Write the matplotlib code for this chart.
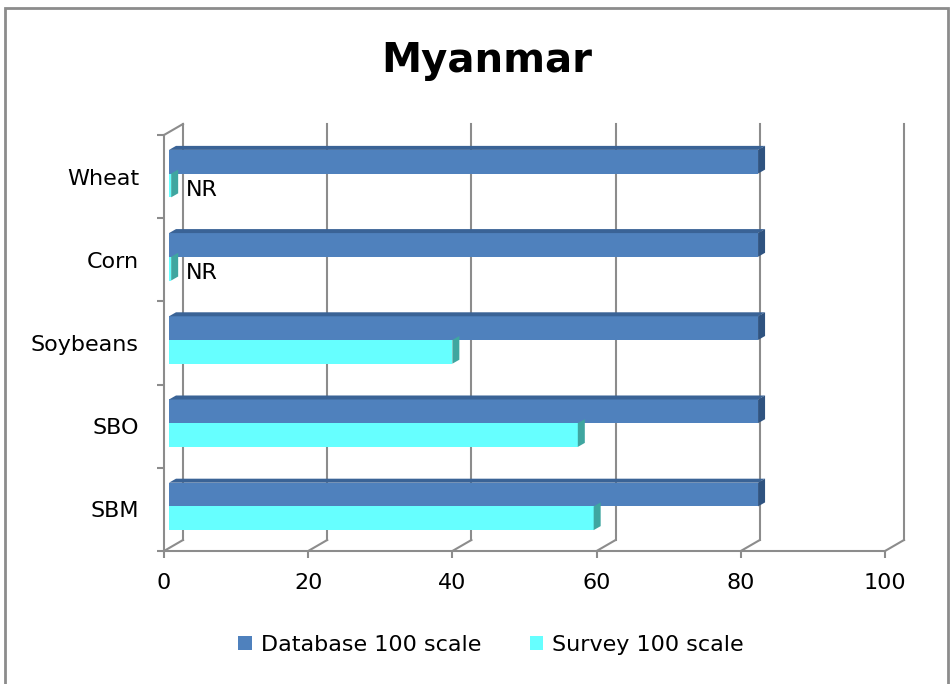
import matplotlib
matplotlib.use("Agg")
import matplotlib.pyplot as plt
from matplotlib.patches import Polygon, Rectangle

# data (bottom to top)
categories = ["SBM", "SBO", "Soybeans", "Corn", "Wheat"]
database_100 = [81.7, 81.7, 81.7, 81.7, 81.7]
survey_100 = [58.9, 56.7, 39.3, 0.3, 0.3]
survey_labels = ["", "", "", "NR", "NR"]
x_ticks = [0, 20, 40, 60, 80, 100]

W, H = 952, 684
fig = plt.figure(figsize=(W / 100, H / 100), dpi=100)

# plot area: front plane x 164..885, y 135..551 (pixels, top origin)
ax = fig.add_axes([164 / W, (H - 551) / H, (885 - 164) / W, (551 - 135) / H])
ax.set_xlim(0, 100)
ax.set_ylim(-0.5, len(categories) - 0.5)

px_x = 7.21    # pixels per value unit
px_y = 83.2    # pixels per category
DX, DY = 19 / px_x, 11 / px_y          # wall depth
BX, BY = 5 / px_x, 3 / px_y            # bar plane offset
bdx, bdy = 7 / px_x, 4 / px_y          # bar depth
bar_h = 0.285

grid_c = "#8c8c8c"
ytop = len(categories) - 0.5

# back wall gridlines + floor diagonals
for xv in x_ticks:
    ax.plot([xv, xv + DX], [-0.5, -0.5 + DY], color=grid_c, lw=1.5, clip_on=False, zorder=1)
    ax.plot([xv + DX, xv + DX], [-0.5 + DY, ytop + DY], color=grid_c, lw=1.5, clip_on=False, zorder=1)
ax.plot([0, DX], [ytop, ytop + DY], color=grid_c, lw=1.5, clip_on=False, zorder=1)


def bar3d(y0, val, front, top, side, draw_top):
    x0 = BX
    yb = y0 + BY
    ax.add_patch(Rectangle((x0, yb), val, bar_h, facecolor=front, edgecolor="none", zorder=3))
    if draw_top:
        ax.add_patch(Polygon([(x0, yb + bar_h), (x0 + val, yb + bar_h),
                              (x0 + val + bdx, yb + bar_h + bdy), (x0 + bdx, yb + bar_h + bdy)],
                             closed=True, facecolor=top, edgecolor="none", zorder=3))
    ax.add_patch(Polygon([(x0 + val, yb), (x0 + val, yb + bar_h),
                          (x0 + val + bdx, yb + bar_h + bdy), (x0 + val + bdx, yb + bdy)],
                         closed=True, facecolor=side, edgecolor="none", zorder=3))


for i, cat in enumerate(categories):
    # database bar on top, survey bar below
    bar3d(i, database_100[i], "#4f81bd", "#3a6396", "#2f5380", True)
    bar3d(i - bar_h, survey_100[i], "#66ffff", "#4fc8c8", "#3fa6a0", False)
    if survey_labels[i]:
        ax.text(BX + survey_100[i] + 2.0, i - bar_h / 2 - 0.02, survey_labels[i],
                ha="left", va="center", fontsize=16, color="black", zorder=4)

# axes styling
for s in ["top", "right"]:
    ax.spines[s].set_visible(False)
for s in ["left", "bottom"]:
    ax.spines[s].set_color(grid_c)
    ax.spines[s].set_linewidth(1.5)
    ax.spines[s].set_zorder(2)

ax.set_xticks(x_ticks)
ax.set_xticklabels([str(v) for v in x_ticks], fontsize=16)
ax.tick_params(axis="x", length=5, width=1.5, color=grid_c, pad=11)

ax.set_yticks(range(len(categories)))
ax.set_yticklabels(categories, fontsize=16)
ax.set_yticks([i - 0.5 for i in range(len(categories) + 1)], minor=True)
ax.tick_params(axis="y", which="major", length=0, pad=18)
ax.tick_params(axis="y", which="minor", length=5, width=1.5, color=grid_c)
ax.set_facecolor("none")

# title
fig.text(487 / W, (H - 72) / H, "Myanmar", ha="center", va="baseline",
         fontsize=29, fontweight="bold")

# legend
handles = [Rectangle((0, 0), 1, 1, facecolor="#4f81bd"),
           Rectangle((0, 0), 1, 1, facecolor="#66ffff")]
fig.legend(handles, ["Database 100 scale", "Survey 100 scale"], loc="center",
           bbox_to_anchor=(491 / W, (H - 645) / H), ncol=2, frameon=False,
           fontsize=16, handlelength=0.6, handleheight=0.6, handletextpad=0.4,
           columnspacing=2.2)

# outer border
fig.patches.append(Rectangle((5 / W, -0.05), (948 - 5) / W, (H - 8) / H + 0.05,
                             transform=fig.transFigure, fill=False,
                             edgecolor="#8c8c8c", lw=2))

fig.savefig("out.png", dpi=100)
